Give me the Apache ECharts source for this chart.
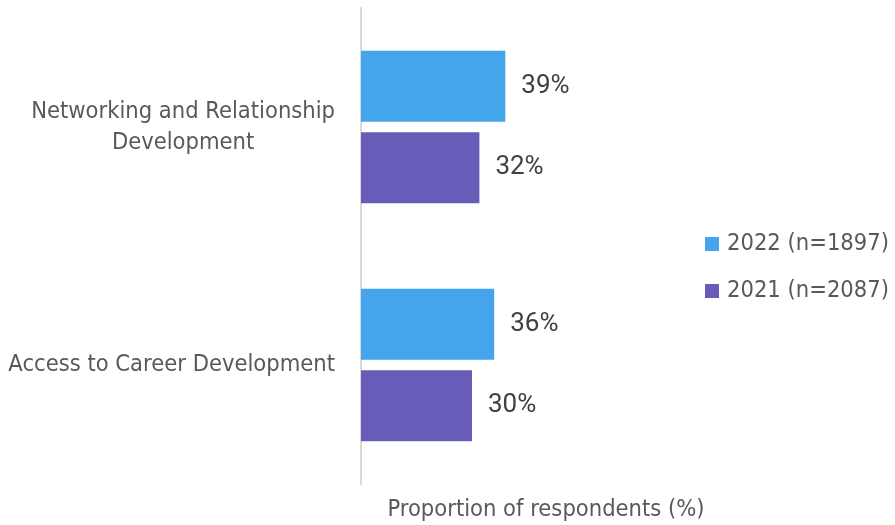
<!DOCTYPE html>
<html>
<head>
<meta charset="utf-8">
<script src="https://cdn.jsdelivr.net/npm/echarts@6/dist/echarts.min.js"></script>
<style>
  html, body { margin: 0; padding: 0; background: #fff; }
  #chart { width: 895px; height: 525px; }
</style>
</head>
<body>
<div id="chart"></div>
<script>
// Categories listed bottom-to-top (ECharts category y-axis starts at the bottom)
const categories = ['Access to Career Development', 'Networking and Relationship\nDevelopment'];
const series2022 = [36, 39];
const series2021 = [30, 32];
const seriesNames = ['2022 (n=1897)', '2021 (n=2087)'];
const axisTitle = 'Proportion of respondents (%)';

const narrow = '"DejaVu Sans Condensed", "Liberation Sans Narrow", sans-serif';
const textGrey = '#595959';
const chart = echarts.init(document.getElementById('chart'));

const labelStyle = {
  show: true,
  position: 'right',
  distance: 16,
  formatter: '{c}%',
  color: '#404040',
  fontSize: 26,
  fontFamily: 'Roboto, sans-serif'
};

chart.setOption({
  animation: false,
  grid: { left: 361, top: 8, width: 370, height: 476, containLabel: false, outerBoundsMode: 'none' },
  legend: {
    orient: 'vertical',
    left: 705,
    top: 232,
    padding: 0,
    itemWidth: 14,
    itemHeight: 14,
    itemGap: 23,
    icon: 'rect',
    data: seriesNames,
    textStyle: { color: textGrey, fontSize: 23.5, fontFamily: narrow, padding: [0, 0, 0, 3] }
  },
  xAxis: {
    type: 'value',
    min: 0,
    max: 100,
    axisLine: { show: false },
    axisTick: { show: false },
    axisLabel: { show: false },
    splitLine: { show: false },
    name: axisTitle,
    nameLocation: 'middle',
    nameGap: 14,
    nameTextStyle: { color: textGrey, fontSize: 23.5, fontFamily: narrow }
  },
  yAxis: {
    type: 'category',
    data: categories,
    axisLine: { show: true, lineStyle: { color: '#d9d9d9', width: 2 } },
    axisTick: { show: false },
    axisLabel: {
      align: 'right',
      margin: 26,
      // each wrapped line is centred within the right-aligned label block
      formatter: function (v) {
        return v.split('\n').map(function (line) { return '{c|' + line + '}'; }).join('\n');
      },
      rich: {
        c: {
          align: 'center',
          color: textGrey,
          fontSize: 23.5,
          fontFamily: narrow,
          lineHeight: 31
        }
      }
    }
  },
  series: [
    {
      name: seriesNames[0],
      type: 'bar',
      data: series2022,
      barWidth: 71,
      barGap: '15%',
      itemStyle: { color: '#45a5ec' },
      label: labelStyle
    },
    {
      name: seriesNames[1],
      type: 'bar',
      data: series2021,
      barWidth: 71,
      barGap: '15%',
      itemStyle: { color: '#675db8' },
      label: labelStyle
    }
  ]
});
</script>
</body>
</html>
